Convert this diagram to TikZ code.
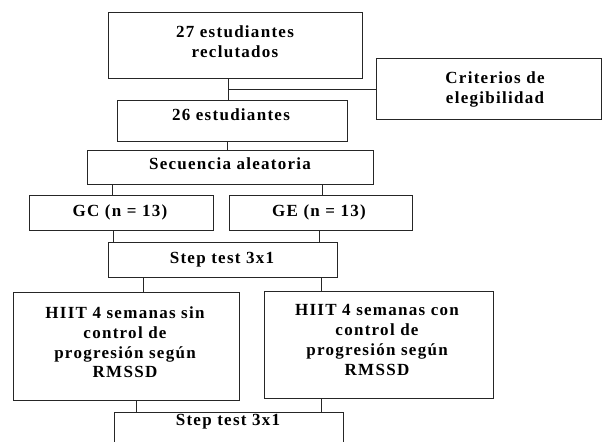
\documentclass[tikz,border=0pt]{standalone}
\usepackage{fontspec}
\setmainfont{Liberation Serif}[LetterSpace=7.5]
\begin{document}
\begin{tikzpicture}[x=1pt,y=-1pt,
  box/.style={draw=black!85, line width=1pt, rectangle, inner sep=0pt},
  txt/.style={font=\fontsize{17}{19.8}\selectfont\bfseries, align=center, inner sep=0pt, text=black},
  conn/.style={draw=black!85, line width=1pt}]
\clip (0,0) rectangle (604,441);
\fill[white] (0,0) rectangle (604,441);
% boxes
\node[box, minimum width=254pt, minimum height=66pt]  (b1)   at (235,46) {};
\node[box, minimum width=225pt, minimum height=60pt]  (crit) at (488.5,89) {};
\node[box, minimum width=230pt, minimum height=40pt]  (b26)  at (232,121) {};
\node[box, minimum width=286pt, minimum height=34pt]  (seq)  at (230,167) {};
\node[box, minimum width=184pt, minimum height=35pt]  (gc)   at (121,212.5) {};
\node[box, minimum width=183pt, minimum height=35pt]  (ge)   at (320.5,212.5) {};
\node[box, minimum width=229pt, minimum height=35pt]  (st1)  at (222.5,259.5) {};
\node[box, minimum width=226pt, minimum height=108pt] (hl)   at (126,346) {};
\node[box, minimum width=229pt, minimum height=107pt] (hr)   at (378.5,344.5) {};
\node[box, minimum width=229pt, minimum height=50pt]  (st2)  at (228.5,437) {};
% texts
\node[txt, anchor=north] (t1)   at (235,26)  {27 estudiantes\\reclutados};
\node[txt, anchor=north] (tcr)  at (495,72)  {Criterios de\\elegibilidad};
\node[txt, anchor=base]  (t26)  at (231,121)   {26 estudiantes};
\node[txt, anchor=base]  (tseq) at (230,169)   {Secuencia aleatoria};
\node[txt, anchor=base]  (tgc)  at (120,216)   {GC (n = 13)};
\node[txt, anchor=base]  (tge)  at (319,216)   {GE (n = 13)};
\node[txt, anchor=base]  (tst1) at (222,263)   {Step test 3x1};
\node[txt, anchor=north] (thl)  at (125,306.5) {HIIT 4 semanas sin\\control de\\progresión según\\RMSSD};
\node[txt, anchor=north] (thr)  at (377,304.5) {HIIT 4 semanas con\\control de\\progresión según\\RMSSD};
\node[txt, anchor=base]  (tst2) at (228,425)   {Step test 3x1};
% connectors
\draw[conn] (b1.south -| 228,0) -- (b26.north -| 228,0);
\coordinate (j1) at (228,90);
\draw[conn] (j1) -- (j1 -| crit.west);
\draw[conn] (b26.south -| 227,0) -- (seq.north -| 227,0);
\draw[conn] (seq.south -| 112,0) -- (gc.north -| 112,0);
\draw[conn] (seq.south -| 322,0) -- (ge.north -| 322,0);
\draw[conn] (gc.south -| 113,0) -- (st1.north -| 113,0);
\draw[conn] (ge.south -| 319,0) -- (st1.north -| 319,0);
\draw[conn] (st1.south -| 143,0) -- (hl.north -| 143,0);
\draw[conn] (st1.south -| 321,0) -- (hr.north -| 321,0);
\draw[conn] (hl.south -| 136,0) -- (st2.north -| 136,0);
\draw[conn] (hr.south -| 321,0) -- (st2.north -| 321,0);
\end{tikzpicture}
\end{document}
